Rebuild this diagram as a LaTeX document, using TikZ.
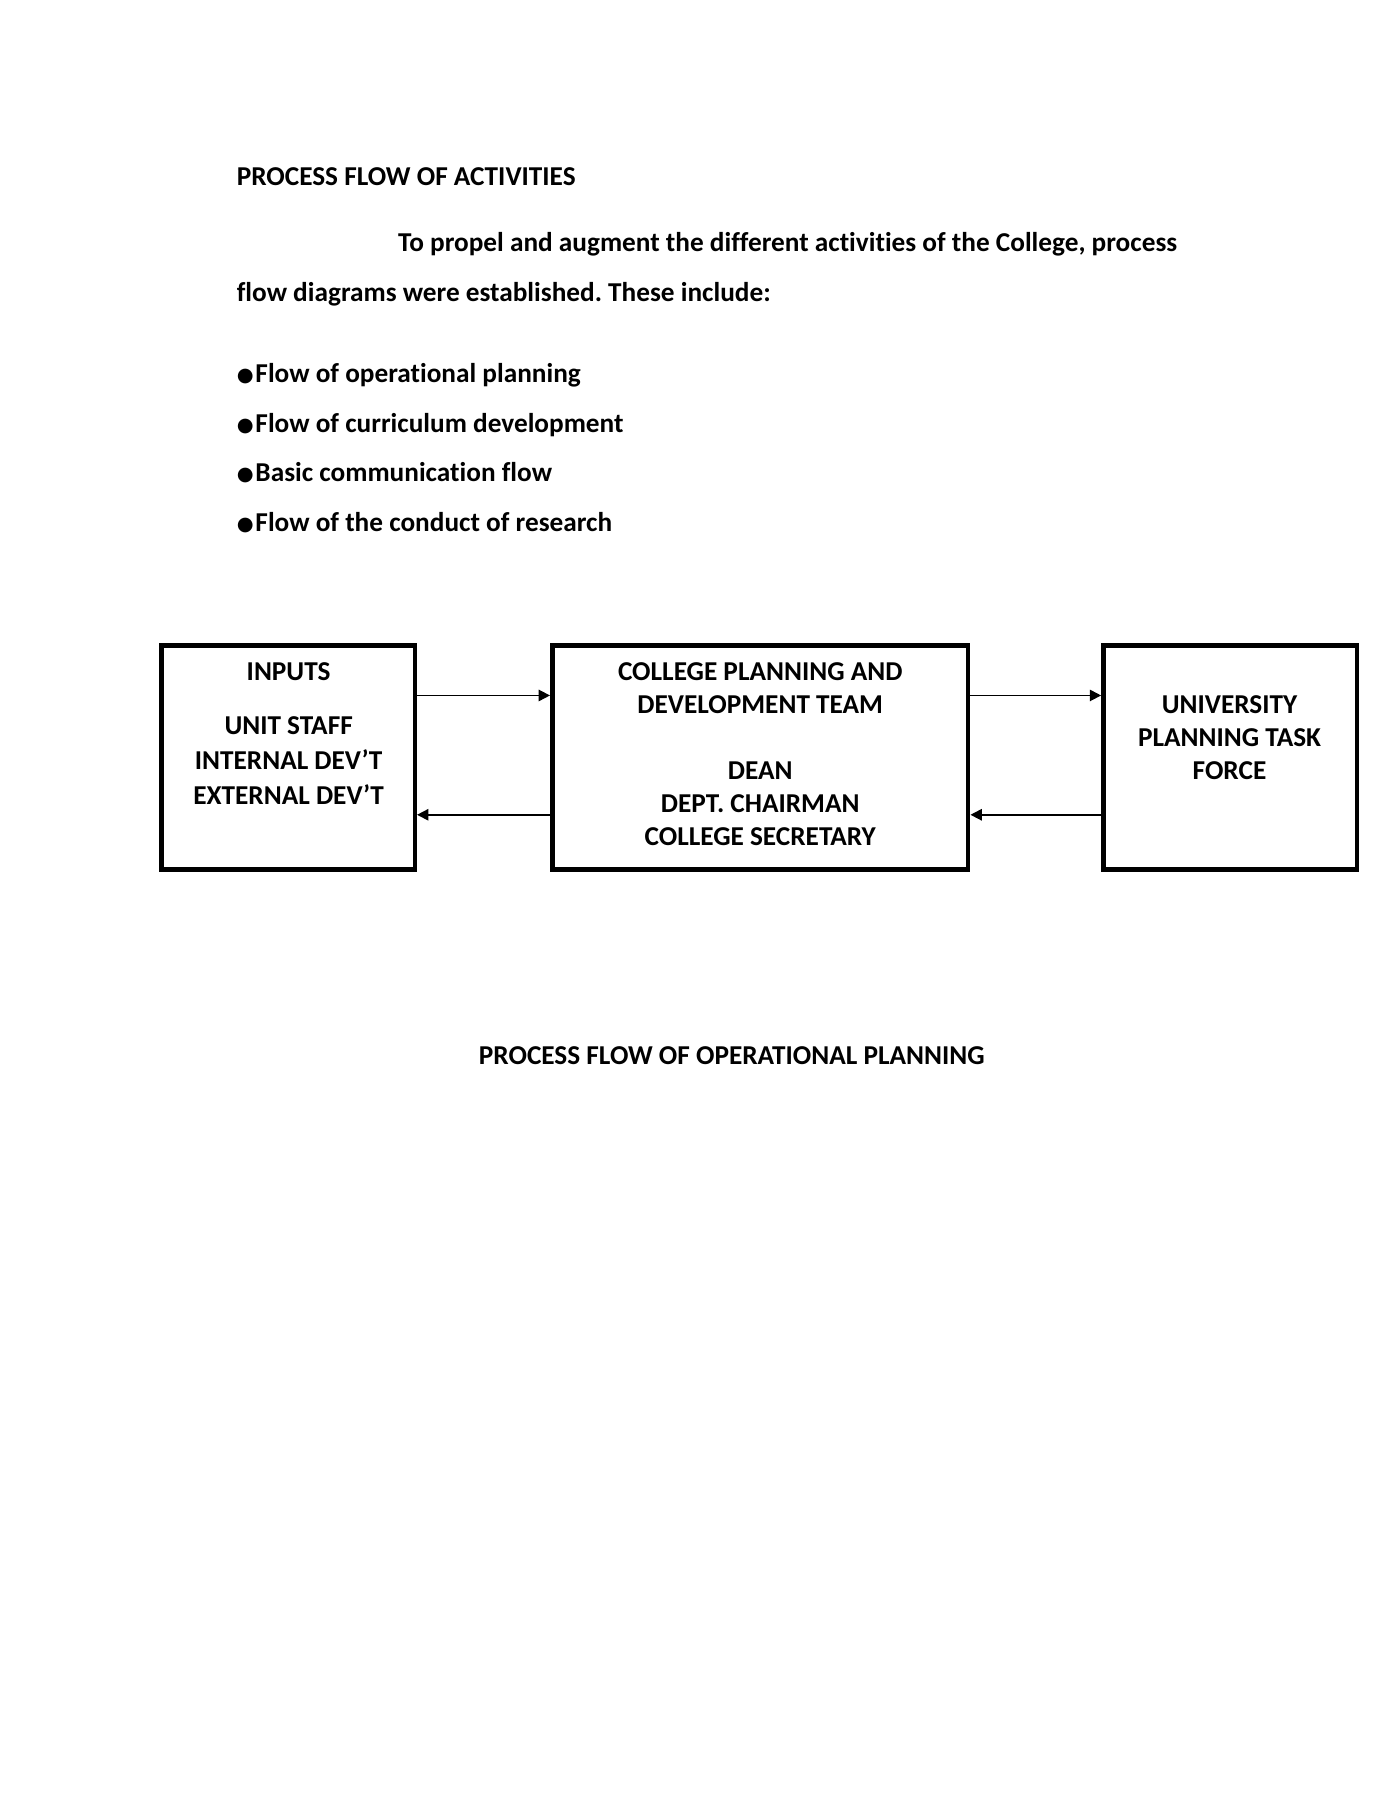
\documentclass[tikz,border=0pt]{standalone}
\usepackage{fontspec}
\setmainfont{Carlito}[Ligatures={NoCommon}]
\newfontfamily\symfont{DejaVu Sans}
\usetikzlibrary{arrows.meta}
\tikzset{
  txt/.style={inner sep=0pt, font=\frenchspacing\bfseries\fontsize{12}{14.4}\selectfont},
  lefttxt/.style={txt, anchor=base west},
  midtxt/.style={txt, anchor=base},
  boxnode/.style={draw, line width=2pt, inner sep=0pt, minimum height=98.5pt},
  arr/.style={line width=0.75pt, -{Triangle[length=5pt,width=5pt]}}
}
\newcommand{\bul}{\raisebox{0.8pt}{\symfont\fontsize{8.5}{10}\selectfont ●}\hspace{0.8pt}}
\begin{document}
\begin{tikzpicture}[x=0.5pt,y=-0.5pt]
\useasboundingbox[fill=white] (0,0) rectangle (1224,1584);
% heading and paragraph
\node[lefttxt] (title) at (208,163) {PROCESS FLOW OF ACTIVITIES};
\node[lefttxt] (p1) at (350,221) {To propel and augment the different activities of the College, process};
\node[lefttxt] (p2) at (208,265) {flow diagrams were established. These include:};
\node[lefttxt] (b1) at (208,337) {\bul Flow of operational planning};
\node[lefttxt] (b2) at (208,381) {\bul Flow of curriculum development};
\node[lefttxt] (b3) at (208,424) {\bul Basic communication flow};
\node[lefttxt] (b4) at (208,468) {\bul Flow of the conduct of research};
% boxes
\node[boxnode, minimum width=111.5pt] (inputs) at (253.5,666.5) {};
\node[boxnode, minimum width=183pt] (cpdt) at (669,666.5) {};
\node[boxnode, minimum width=111.5pt] (uptf) at (1082.5,666.5) {};
% box texts
\node[midtxt] (i1) at (254,599) {INPUTS};
\node[midtxt] (i2) at (254,646) {UNIT STAFF};
\node[midtxt] (i3) at (254,677) {INTERNAL DEV’T};
\node[midtxt] (i4) at (254,708) {EXTERNAL DEV’T};
\node[midtxt] (c1) at (669,599) {COLLEGE PLANNING AND};
\node[midtxt] (c2) at (669,628) {DEVELOPMENT TEAM};
\node[midtxt] (c3) at (669,686) {DEAN};
\node[midtxt] (c4) at (669,715) {DEPT. CHAIRMAN};
\node[midtxt] (c5) at (669,744) {COLLEGE SECRETARY};
\node[midtxt] (u1) at (1082,628) {UNIVERSITY};
\node[midtxt] (u2) at (1082,657) {PLANNING TASK};
\node[midtxt] (u3) at (1082,686) {FORCE};
% connectors
\coordinate (rowa) at (0,612);
\coordinate (rowb) at (0,717);
\draw[arr] (inputs.east |- rowa) -- (cpdt.west |- rowa);
\draw[arr] (cpdt.west |- rowb) -- (inputs.east |- rowb);
\draw[arr] (cpdt.east |- rowa) -- (uptf.west |- rowa);
\draw[arr] (uptf.west |- rowb) -- (cpdt.east |- rowb);
% caption
\node[midtxt] (cap) at (644,937) {PROCESS FLOW OF OPERATIONAL PLANNING};
\end{tikzpicture}
\end{document}
